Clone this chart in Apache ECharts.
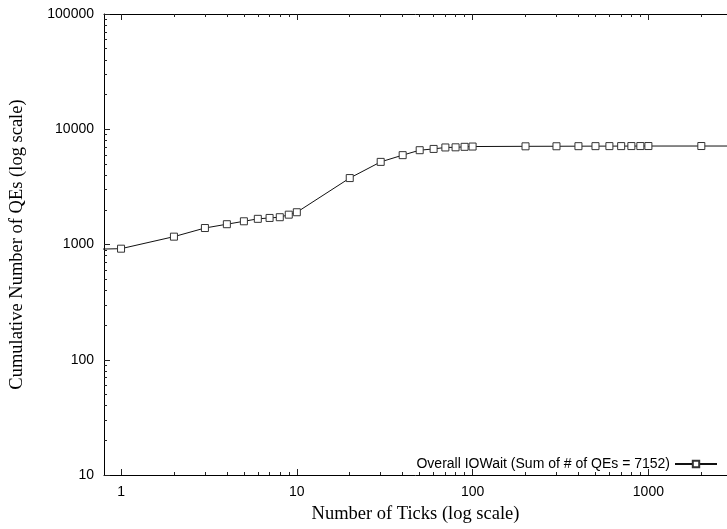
<!DOCTYPE html>
<html>
<head>
<meta charset="utf-8">
<script src="https://cdn.jsdelivr.net/npm/echarts@6/dist/echarts.min.js"></script>
<style>html,body{margin:0;padding:0;background:#fff}#c{width:727px;height:529px}</style>
</head>
<body>
<div id="c"></div>
<script>
// Data
const ticksX = [0.5, 1, 2, 3, 4, 5, 6, 7, 8, 9, 10, 20, 30, 40, 50, 60, 70, 80, 90, 100,
  200, 300, 400, 500, 600, 700, 800, 900, 1000, 2000, 5000];
const cumulativeQEs = [900, 920, 1170, 1390, 1500, 1590, 1670, 1700, 1725, 1815, 1905, 3770, 5210, 5960, 6580, 6750, 6950, 6970, 7040, 7080,
  7110, 7120, 7130, 7135, 7140, 7142, 7145, 7148, 7150, 7152, 7152];
const xMajorTicks = [1, 10, 100, 1000];
const xMinorTicks = [2,3,4,5,6,7,8,9,20,30,40,50,60,70,80,90,200,300,400,500,600,700,800,900,2000];
const yMajorTicks = [10, 100, 1000, 10000, 100000];
const yMinorTicks = [20,30,40,50,60,70,80,90,200,300,400,500,600,700,800,900,
  2000,3000,4000,5000,6000,7000,8000,9000,20000,30000,40000,50000,60000,70000,80000,90000];
const seriesName = 'Overall IOWait (Sum of # of QEs = 7152)';

const X_MIN = 0.8, X_MAX = 2800, Y_MIN = 10, Y_MAX = 100000;
const sans = 'Liberation Sans, Arial, sans-serif';
const serif = 'Liberation Serif, Times New Roman, serif';

function axis(kind, pos, ticks, len, opts) {
  const isX = kind === 'x';
  return Object.assign({
    type: 'log',
    logBase: 10,
    min: isX ? X_MIN : Y_MIN,
    max: isX ? X_MAX : Y_MAX,
    position: pos,
    gridIndex: 0,
    axisLine: { show: false, lineStyle: { color: '#000', width: 1 } },
    axisTick: { show: true, inside: true, length: len, customValues: ticks, lineStyle: { color: '#222', width: 1 } },
    axisLabel: { show: false },
    splitLine: { show: false },
    minorTick: { show: false },
    minorSplitLine: { show: false }
  }, opts || {});
}

const chart = echarts.init(document.getElementById('c'), null, { renderer: 'canvas' });
chart.setOption({
  animation: false,
  backgroundColor: '#fff',
  grid: { left: 104, right: 0, top: 14, bottom: 52, containLabel: false },
  xAxis: [
    axis('x', 'bottom', xMajorTicks, 6, {
      axisLine: { show: true, onZero: false, lineStyle: { color: '#000', width: 1 } },
      axisLabel: { show: true, customValues: xMajorTicks, formatter: v => String(v), color: '#000', fontFamily: sans, fontSize: 14, margin: 10 },
      name: 'Number of Ticks (log scale)',
      nameLocation: 'middle',
      nameGap: 30,
      nameTextStyle: { color: '#000', fontFamily: serif, fontSize: 18.5 }
    }),
    axis('x', 'bottom', xMinorTicks, 3),
    axis('x', 'top', xMajorTicks, 6, { axisLine: { show: true, onZero: false, lineStyle: { color: '#000', width: 1 } } }),
    axis('x', 'top', xMinorTicks, 3)
  ],
  yAxis: [
    axis('y', 'left', yMajorTicks, 6, {
      axisLine: { show: true, onZero: false, lineStyle: { color: '#000', width: 1 } },
      axisLabel: { show: true, customValues: yMajorTicks, formatter: v => String(v), color: '#000', fontFamily: sans, fontSize: 14, margin: 10 },
      name: 'Cumulative Number of QEs (log scale)',
      nameLocation: 'middle',
      nameGap: 77,
      nameTextStyle: { color: '#000', fontFamily: serif, fontSize: 18.5 }
    }),
    axis('y', 'left', yMinorTicks, 3)
  ],
  legend: {
    show: true,
    right: 9,
    top: 457,
    padding: 0,
    align: 'right',
    itemWidth: 42,
    itemHeight: 8,
    textStyle: { color: '#000', fontFamily: sans, fontSize: 14 },
    data: [{ name: seriesName }]
  },
  series: [{
    name: seriesName,
    type: 'line',
    xAxisIndex: 0,
    yAxisIndex: 0,
    clip: true,
    data: ticksX.map((x, i) => [x, cumulativeQEs[i]]),
    symbol: 'rect',
    symbolSize: 7,
    showAllSymbol: true,
    lineStyle: { color: '#111', width: 1 },
    itemStyle: { color: '#fff', borderColor: '#333', borderWidth: 1 }
  }]
});
</script>
</body>
</html>
